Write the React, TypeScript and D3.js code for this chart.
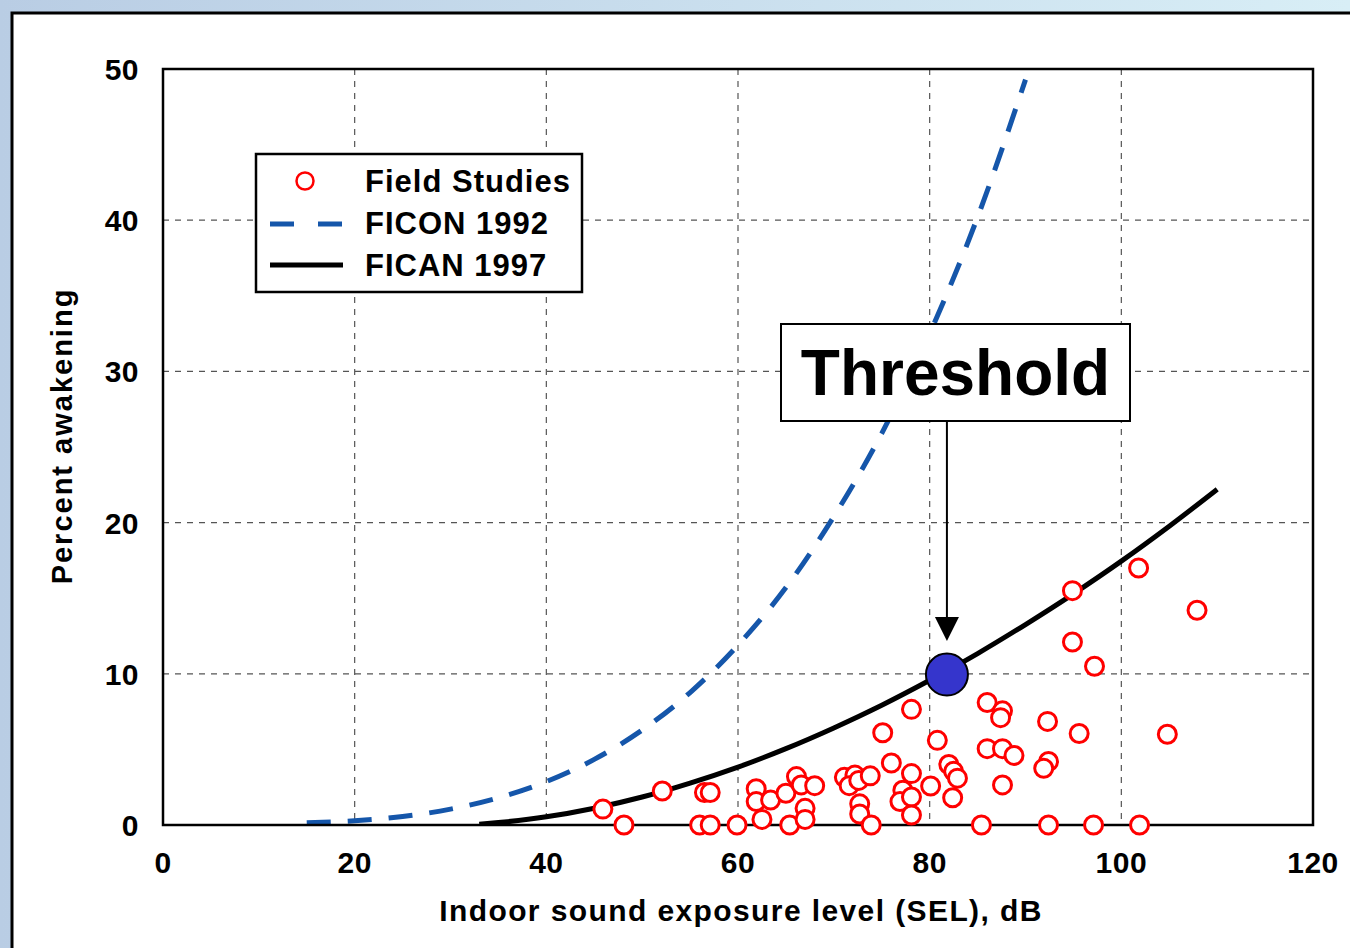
import React from "react";
import * as d3 from "d3";

const xTicks = [0, 20, 40, 60, 80, 100, 120];
const yTicks = [0, 10, 20, 30, 40, 50];

// Field studies: [SEL dB, percent awakening]
const fieldStudies: [number, number][] = [
  [45.9, 1.05], [48.1, 0], [52.1, 2.25], [56.5, 2.15], [57.1, 2.15], [56.0, 0], [57.1, 0], [59.9, 0],
  [61.9, 2.4], [61.9, 1.55], [63.4, 1.65], [62.5, 0.37], [65.0, 2.1], [65.4, 0], [66.1, 3.2], [66.6, 2.65],
  [68.0, 2.6], [67.0, 1.1], [67.0, 0.37],
  [71.1, 3.15], [72.2, 3.3], [71.6, 2.6], [72.6, 2.95], [73.8, 3.25], [72.7, 1.4], [72.7, 0.73], [73.9, 0],
  [75.1, 6.1], [76.0, 4.1], [78.1, 7.65], [78.1, 3.4], [77.2, 2.3], [76.9, 1.55], [78.1, 1.85], [78.1, 0.66],
  [80.1, 2.58], [80.8, 5.6], [82.0, 4.0], [82.5, 3.55], [82.9, 3.1], [82.4, 1.8],
  [86.0, 8.1], [87.6, 7.55], [87.4, 7.1], [86.0, 5.05], [87.6, 5.05], [88.8, 4.6], [87.6, 2.65], [85.4, 0],
  [92.3, 6.85], [92.4, 4.2], [91.9, 3.75], [92.4, 0], [95.6, 6.05], [97.1, 0],
  [94.9, 15.5], [94.9, 12.1], [97.2, 10.5], [101.8, 17.0], [101.9, 0], [104.8, 6.0], [107.9, 14.2],
];

// FICON 1992 curve
const ficonSEL = [15, 20, 25, 30, 35, 40, 45, 50, 55, 60, 65, 70, 75, 80, 85, 90];
const ficonPct = [0.15, 0.28, 0.56, 1.05, 1.8, 2.87, 4.34, 6.28, 8.76, 11.9, 15.7, 20.4, 25.9, 32.5, 40.2, 49.3];

// FICAN 1997 curve
const ficanSEL = [33, 35, 40, 45, 50, 55, 60, 65, 70, 75, 80, 85, 90, 95, 100, 105, 110];
const ficanPct = [0.05, 0.16, 0.54, 1.11, 1.85, 2.77, 3.83, 5.05, 6.42, 7.92, 9.57, 11.34, 13.26, 15.29, 17.45, 19.76, 22.2];

const threshold: [number, number] = [81.8, 9.95];

const FONT = "'Liberation Sans', Arial, Helvetica, sans-serif";

export default function App() {
  const W = 1350, H = 948;
  const L = 163, R = 1313, T = 69, B = 825;
  const x = d3.scaleLinear().domain([0, 120]).range([L, R]);
  const y = d3.scaleLinear().domain([0, 50]).range([B, T]);

  const line = d3.line<[number, number]>().x(d => x(d[0])).y(d => y(d[1])).curve(d3.curveMonotoneX);
  const ficon = line(ficonSEL.map((s, i) => [s, ficonPct[i]] as [number, number])) || "";
  const fican = line(ficanSEL.map((s, i) => [s, ficanPct[i]] as [number, number])) || "";

  const tx = x(threshold[0]);
  const ty = y(threshold[1]);

  return (
    <svg width={W} height={H} style={{ position: "absolute", left: 0, top: 0, display: "block" }} fontFamily={FONT}>
      <defs>
        <linearGradient id="bg" x1="0" y1="0" x2="1" y2="0">
          <stop offset="0" stopColor="#b9cde4" />
          <stop offset="1" stopColor="#d8eef6" />
        </linearGradient>
        <clipPath id="plotclip">
          <rect x={L} y={T} width={R - L} height={B - T} />
        </clipPath>
      </defs>
      <rect x={0} y={0} width={W} height={H} fill="url(#bg)" />
      <rect x={12} y={13} width={W} height={H} fill="#fff" stroke="#000" strokeWidth={3} />

      {/* grid */}
      <g stroke="#555" strokeWidth={1.2} strokeDasharray="6 6">
        {xTicks.slice(1, -1).map(t => (
          <line key={"gx" + t} x1={x(t)} x2={x(t)} y1={T} y2={B} />
        ))}
        {yTicks.slice(1, -1).map(t => (
          <line key={"gy" + t} x1={L} x2={R} y1={y(t)} y2={y(t)} />
        ))}
      </g>

      {/* curves */}
      <g clipPath="url(#plotclip)">
        <path d={ficon} fill="none" stroke="#1556aa" strokeWidth={5} strokeDasharray="24 17" />
        <path d={fican} fill="none" stroke="#000" strokeWidth={5} />
      </g>

      {/* frame */}
      <rect x={L} y={T} width={R - L} height={B - T} fill="none" stroke="#000" strokeWidth={2.5} />

      {/* points */}
      <g fill="#fff" stroke="#ff0000" strokeWidth={3}>
        {fieldStudies.map((d, i) => (
          <circle key={i} cx={x(d[0])} cy={y(d[1])} r={9} />
        ))}
      </g>

      {/* threshold marker */}
      <circle cx={tx} cy={ty} r={21} fill="#3535cc" stroke="#000" strokeWidth={2} />

      {/* threshold label & arrow */}
      <line x1={tx} x2={tx} y1={421} y2={620} stroke="#000" strokeWidth={2} />
      <path d={`M${tx - 12},${617} L${tx + 12},${617} L${tx},${641} Z`} fill="#000" />
      <rect x={781} y={324} width={349} height={97} fill="#fff" stroke="#000" strokeWidth={2} />
      <text x={955.5} y={395} textAnchor="middle" fontSize={64} fontWeight="bold" fill="#000">Threshold</text>

      {/* legend */}
      <rect x={256} y={154} width={326} height={138} fill="#fff" stroke="#000" strokeWidth={2.5} />
      <circle cx={305} cy={181} r={8.5} fill="#fff" stroke="#ff0000" strokeWidth={2.5} />
      <line x1={270} x2={343} y1={224} y2={224} stroke="#1556aa" strokeWidth={5} strokeDasharray="24 24" />
      <line x1={270} x2={343} y1={265} y2={265} stroke="#000" strokeWidth={5} />
      <g fontSize={31} fontWeight="bold" fill="#000" letterSpacing={1}>
        <text x={365} y={192}>Field Studies</text>
        <text x={365} y={234}>FICON 1992</text>
        <text x={365} y={276}>FICAN 1997</text>
      </g>

      {/* axis labels */}
      <g fontSize={30} fontWeight="bold" fill="#000" letterSpacing={0.5}>
        {yTicks.map(t => (
          <text key={"yl" + t} x={139} y={y(t) + 11} textAnchor="end">{t}</text>
        ))}
        {xTicks.map(t => (
          <text key={"xl" + t} x={x(t)} y={873} textAnchor="middle">{t}</text>
        ))}
      </g>
      <text x={741} y={921} textAnchor="middle" fontSize={30} fontWeight="bold" fill="#000" letterSpacing={1.4}>
        Indoor sound exposure level (SEL), dB
      </text>
      <text transform={`translate(72,436) rotate(-90)`} textAnchor="middle" fontSize={29} fontWeight="bold" fill="#000" letterSpacing={2}>
        Percent awakening
      </text>
    </svg>
  );
}
